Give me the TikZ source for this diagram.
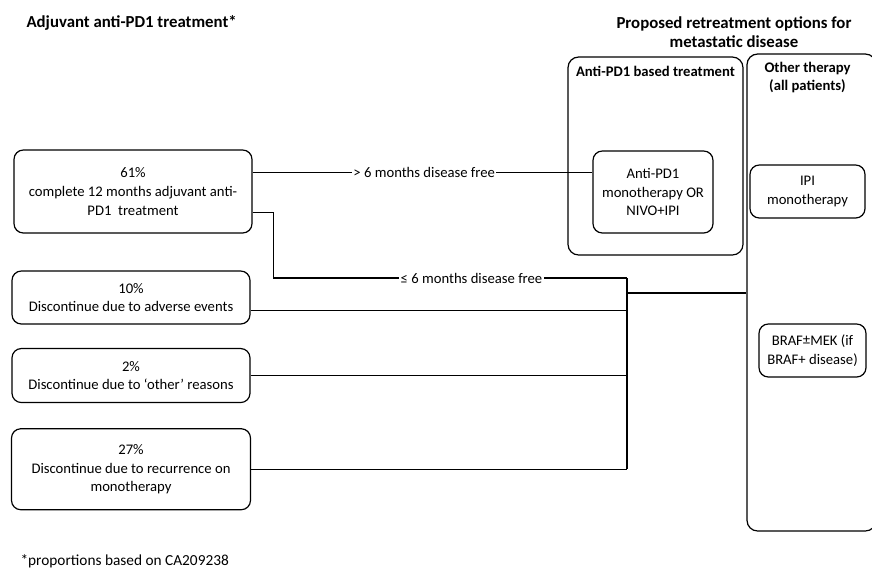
\documentclass[tikz,border=0pt]{standalone}
\usepackage{fontspec}
\setmainfont{Carlito}
\usetikzlibrary{positioning}

\begin{document}
\begin{tikzpicture}[x=0.75pt,y=-0.75pt,node distance=18pt,line width=0.8pt,
  font=\fontsize{11}{14}\selectfont]
  \tikzstyle{box} = [draw,line width=0.9pt,rounded corners=7pt,rectangle,align=center,inner sep=2pt]
  \tikzstyle{panel} = [draw,line width=0.9pt,rounded corners=8pt,rectangle]
  \tikzstyle{head} = [font=\fontsize{11}{14}\selectfont\bfseries,align=center,inner sep=0pt]
  \tikzstyle{title} = [font=\fontsize{12.6}{14.5}\selectfont\bfseries,align=center,inner sep=0pt]
  \tikzstyle{lbl} = [fill=white,inner sep=1pt]
  \useasboundingbox (0,0) rectangle (872,569);

  % left column
  \node [title,anchor=west] (h1) at (26,23) {Adjuvant anti-PD1 treatment*};
  \node [box,minimum width=178.5pt,minimum height=62.25pt] (a1) at (133,191.5)
    {61\%\\complete 12 months adjuvant anti-\\PD1\ \ treatment};
  \node [box,minimum width=178.5pt,minimum height=39.75pt] (a2) at (131,297.5)
    {10\%\\Discontinue due to adverse events};
  \node [box,minimum width=178.5pt,minimum height=40.5pt,below=17.5pt of a2.south,anchor=north] (a3)
    {2\%\\Discontinue due to ‘other’ reasons};
  \node [box,minimum width=179.25pt,minimum height=60.75pt,below=18.75pt of a3.south,anchor=north] (a4)
    {27\%\\Discontinue due to recurrence on\\monotherapy};
  \node [anchor=west,inner sep=0pt,font=\fontsize{11.5}{14}\selectfont] (note) at (20,561)
    {*proportions based on CA209238};

  % right column
  \node [title] (h2) at (734,32) {Proposed retreatment options for\\metastatic disease};
  \node [panel,minimum width=131.25pt,minimum height=148.5pt] (anti) at (655.5,156) {};
  \node [head,below=7pt of anti.north] (l1) {Anti-PD1 based treatment};
  \node [panel,minimum width=96.75pt,minimum height=357.75pt] (other) at (811.5,292.5) {};
  \node [head,below=6pt of other.north,xshift=-3pt] (l2) {Other therapy\\(all patients)};
  \node [box,minimum width=90pt,minimum height=61.5pt] (nivo) at (653,192)
    {Anti-PD1\\monotherapy OR\\NIVO+IPI};
  \node [box,minimum width=86.25pt,minimum height=39.75pt] (ipi) at (807.5,191.5) {IPI\\monotherapy};
  \node [box,minimum width=80.25pt,minimum height=39.75pt] (braf) at (812.5,350.5)
    {BRAF\raisebox{0.1ex}{±}MEK (if\\BRAF+ disease)};

  % connectors
  \coordinate (b1) at (627,278);
  \coordinate (b2) at (627,293);
  \draw ([yshift=14.6pt]a1.east) coordinate (c1) -- node [lbl,pos=0.505] {> 6 months disease free} (c1 -| nivo.west);
  \draw ([yshift=-15.4pt]a1.east) -- ++(21,0) |- node [lbl,pos=0.78] {≤ 6 months disease free} (b1);
  \draw ([yshift=-10pt]a2.east) coordinate (c2) -- (c2 -| b1);
  \draw (a3.east) -- (a3.east -| b1);
  \draw (a4.east) -- (a4.east -| b1) coordinate (b3);
  \draw (b1) -- (b3);
  \draw [line width=1.3pt] (b2) -- (b2 -| other.west);
\end{tikzpicture}
\end{document}
